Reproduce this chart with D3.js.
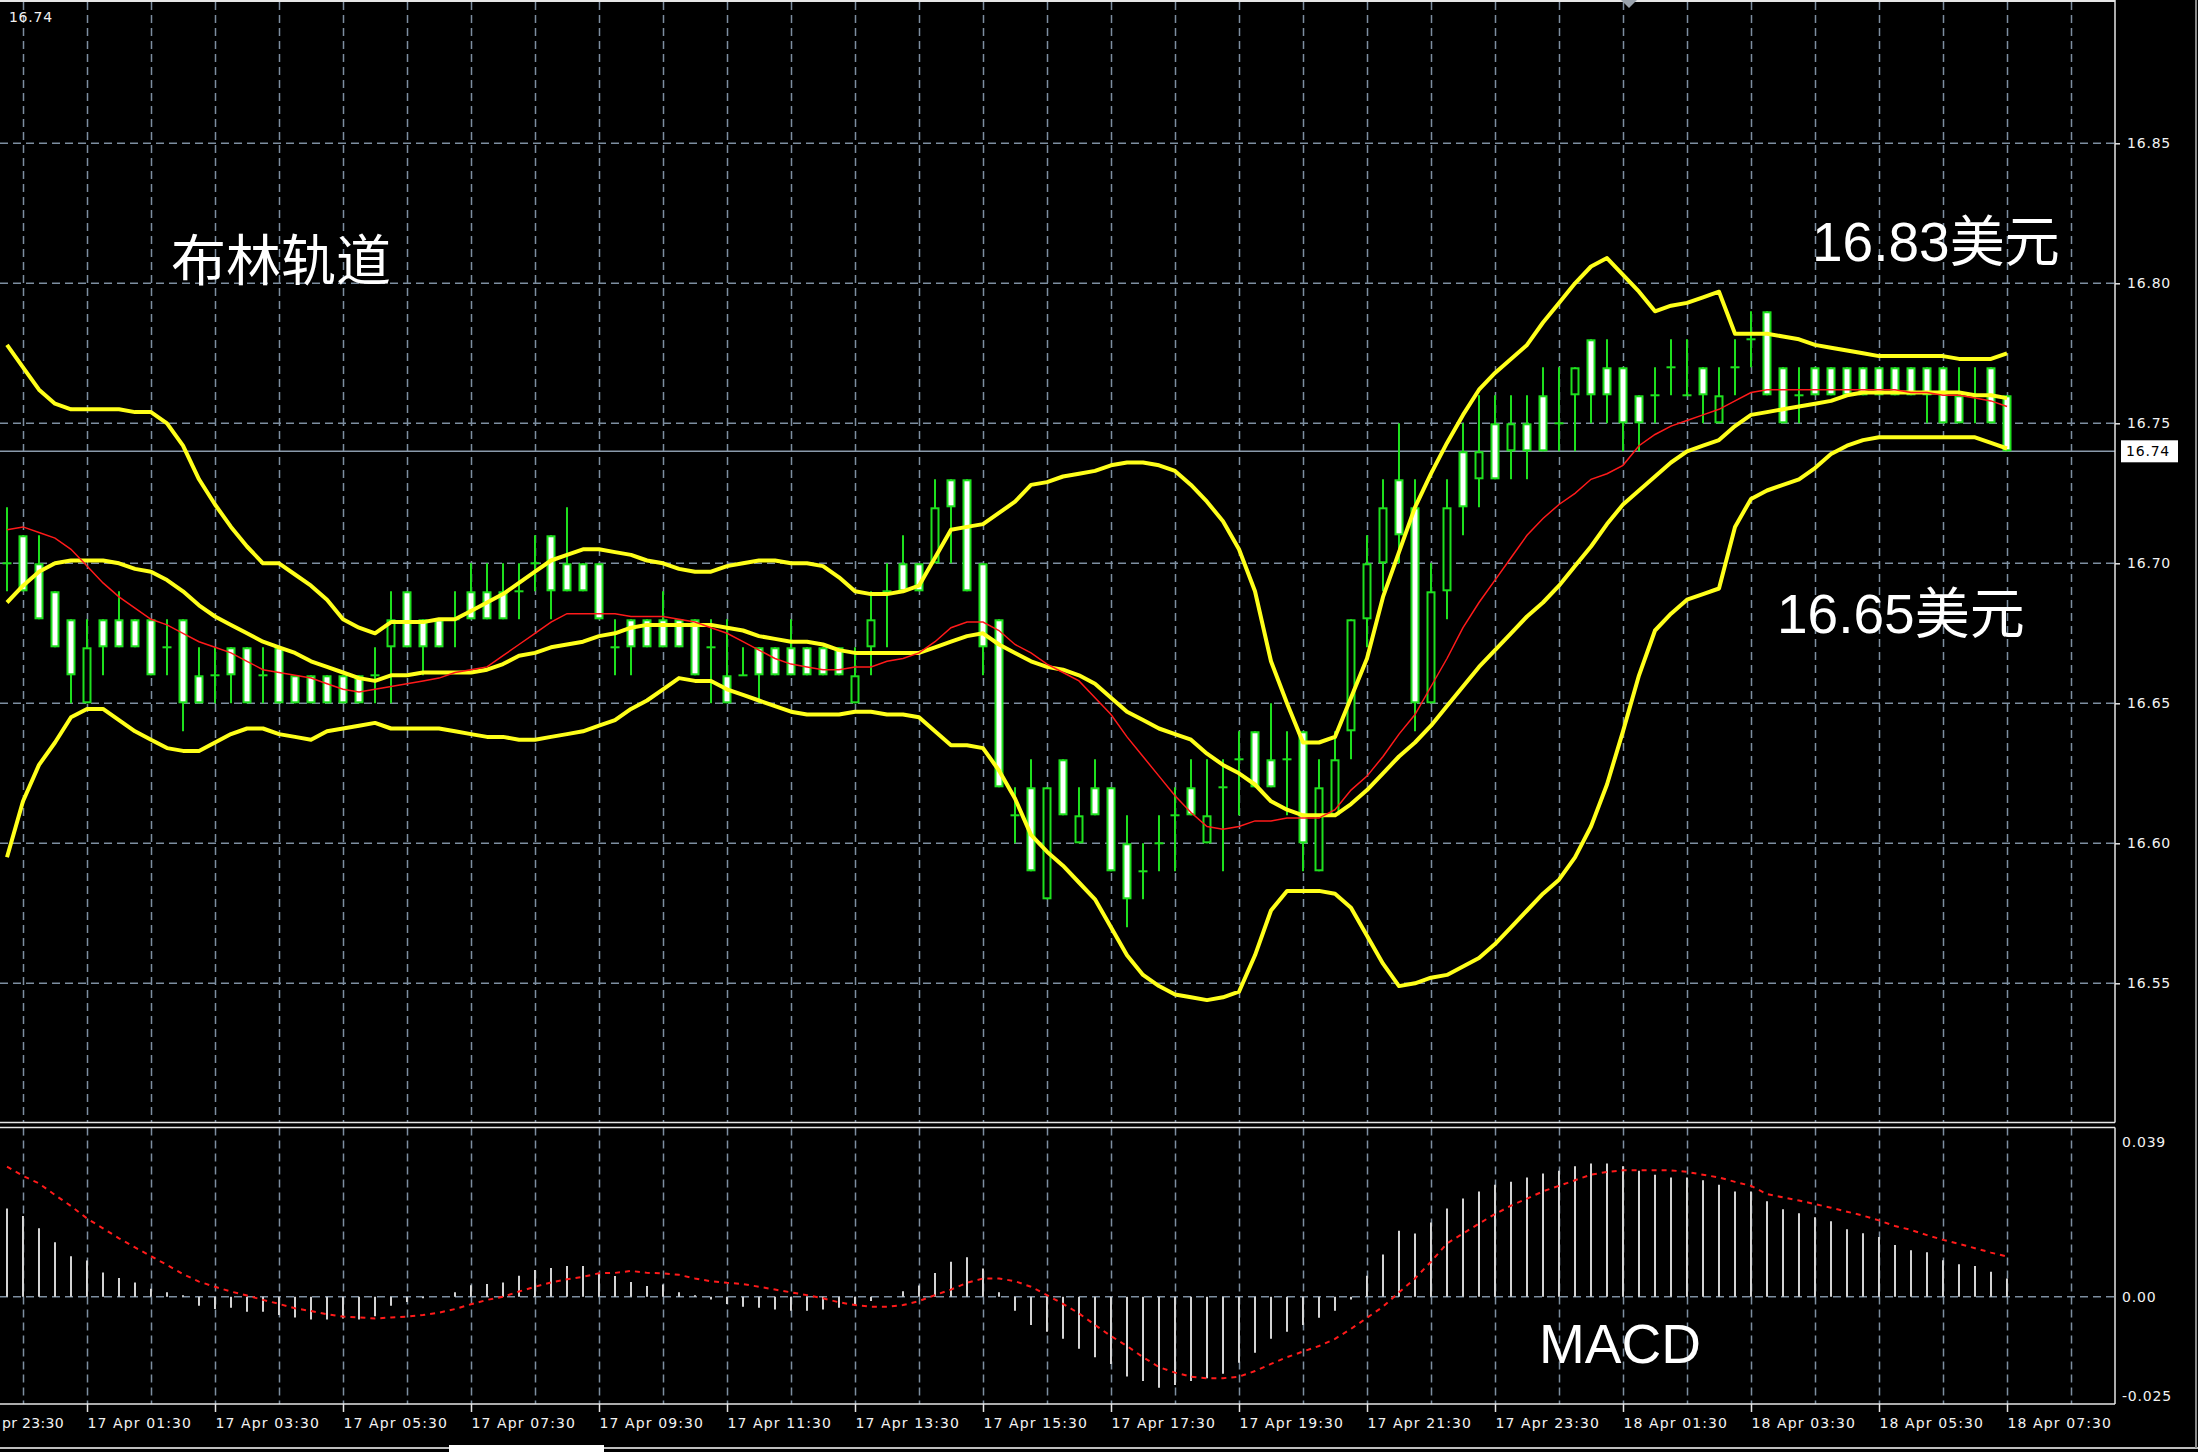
<!DOCTYPE html>
<html><head><meta charset="utf-8">
<script src="https://cdn.jsdelivr.net/npm/d3@7"></script>
<style>html,body{margin:0;padding:0;background:#000;overflow:hidden}</style>
</head><body>
<svg id="c" width="2198" height="1452"></svg>
<script>
// ---- data (15-minute candles, 17 Apr 00:15 .. 18 Apr 07:30) ----
const opens = [16.70,16.71,16.70,16.69,16.68,16.65,16.68,16.68,16.68,16.68,
16.67,16.68,16.66,16.66,16.67,16.67,16.66,16.67,16.66,16.66,
16.66,16.66,16.66,16.66,16.67,16.69,16.68,16.68,16.68,16.69,
16.69,16.69,16.69,16.70,16.71,16.70,16.70,16.70,16.67,16.68,
16.68,16.68,16.68,16.68,16.67,16.66,16.66,16.67,16.67,16.67,
16.67,16.67,16.67,16.65,16.67,16.69,16.70,16.70,16.70,16.73,
16.73,16.70,16.68,16.61,16.62,16.58,16.63,16.60,16.62,16.62,
16.60,16.59,16.60,16.61,16.62,16.60,16.62,16.63,16.64,16.63,
16.63,16.64,16.59,16.61,16.64,16.68,16.70,16.73,16.72,16.65,
16.69,16.74,16.73,16.75,16.74,16.75,16.76,16.75,16.76,16.78,
16.77,16.77,16.76,16.76,16.77,16.76,16.77,16.75,16.77,16.78,
16.79,16.77,16.76,16.77,16.77,16.77,16.77,16.77,16.77,16.77,
16.77,16.77,16.76,16.76,16.77,16.76];
const highs = [16.72,16.71,16.71,16.69,16.68,16.68,16.68,16.69,16.68,16.68,
16.68,16.68,16.67,16.67,16.67,16.67,16.67,16.67,16.66,16.66,
16.66,16.66,16.66,16.67,16.69,16.69,16.68,16.68,16.69,16.70,
16.70,16.70,16.70,16.71,16.71,16.72,16.70,16.70,16.68,16.68,
16.68,16.69,16.68,16.68,16.68,16.68,16.67,16.67,16.67,16.68,
16.67,16.67,16.67,16.67,16.69,16.70,16.71,16.70,16.73,16.73,
16.73,16.70,16.68,16.62,16.63,16.62,16.63,16.62,16.63,16.62,
16.61,16.60,16.61,16.62,16.63,16.63,16.63,16.64,16.64,16.65,
16.64,16.64,16.63,16.64,16.68,16.71,16.73,16.75,16.73,16.70,
16.73,16.75,16.76,16.76,16.76,16.76,16.77,16.77,16.77,16.78,
16.78,16.77,16.76,16.77,16.78,16.78,16.77,16.77,16.78,16.79,
16.79,16.77,16.77,16.77,16.77,16.77,16.77,16.77,16.77,16.77,
16.77,16.77,16.77,16.77,16.77,16.76];
const lows = [16.69,16.69,16.68,16.67,16.65,16.65,16.66,16.67,16.67,16.66,
16.66,16.64,16.65,16.65,16.65,16.65,16.65,16.65,16.65,16.65,
16.65,16.65,16.65,16.65,16.65,16.67,16.66,16.67,16.67,16.68,
16.68,16.68,16.68,16.69,16.68,16.69,16.69,16.68,16.66,16.66,
16.67,16.67,16.67,16.66,16.65,16.65,16.66,16.65,16.66,16.66,
16.66,16.66,16.66,16.65,16.66,16.67,16.69,16.69,16.70,16.70,
16.69,16.66,16.62,16.60,16.59,16.58,16.61,16.60,16.61,16.59,
16.57,16.58,16.59,16.59,16.61,16.60,16.59,16.61,16.62,16.62,
16.61,16.59,16.59,16.61,16.63,16.67,16.69,16.70,16.64,16.65,
16.68,16.71,16.72,16.73,16.73,16.73,16.74,16.74,16.74,16.75,
16.75,16.74,16.74,16.75,16.76,16.76,16.75,16.75,16.76,16.77,
16.76,16.75,16.75,16.76,16.76,16.76,16.76,16.76,16.76,16.76,
16.75,16.75,16.75,16.75,16.75,16.74];
const closes = [16.70,16.69,16.68,16.67,16.66,16.67,16.67,16.67,16.67,16.66,
16.67,16.65,16.65,16.66,16.66,16.65,16.66,16.65,16.65,16.65,
16.65,16.65,16.65,16.66,16.68,16.67,16.67,16.67,16.68,16.68,
16.68,16.68,16.69,16.70,16.69,16.69,16.69,16.68,16.67,16.67,
16.67,16.67,16.67,16.66,16.67,16.65,16.66,16.66,16.66,16.66,
16.66,16.66,16.66,16.66,16.68,16.69,16.69,16.69,16.72,16.72,
16.69,16.67,16.62,16.61,16.59,16.62,16.61,16.61,16.61,16.59,
16.58,16.59,16.60,16.61,16.61,16.61,16.62,16.63,16.62,16.62,
16.63,16.60,16.62,16.63,16.68,16.70,16.72,16.71,16.65,16.69,
16.72,16.72,16.74,16.73,16.75,16.74,16.74,16.75,16.77,16.76,
16.76,16.75,16.75,16.76,16.77,16.76,16.76,16.76,16.77,16.78,
16.76,16.75,16.76,16.76,16.76,16.76,16.76,16.76,16.76,16.76,
16.76,16.75,16.75,16.76,16.75,16.74];

const bbUpper = [16.778,16.770,16.762,16.757,16.755,16.755,16.755,16.755,16.754,16.754,
16.750,16.742,16.730,16.721,16.713,16.706,16.700,16.700,16.696,16.692,
16.687,16.680,16.677,16.675,16.679,16.679,16.679,16.680,16.680,16.683,
16.686,16.689,16.693,16.697,16.701,16.703,16.705,16.705,16.704,16.703,
16.701,16.700,16.698,16.697,16.697,16.699,16.700,16.701,16.701,16.700,
16.700,16.699,16.695,16.690,16.689,16.689,16.690,16.692,16.702,16.712,
16.713,16.714,16.718,16.722,16.728,16.729,16.731,16.732,16.733,16.735,
16.736,16.736,16.735,16.733,16.728,16.722,16.715,16.705,16.690,16.665,
16.650,16.636,16.636,16.638,16.652,16.666,16.688,16.704,16.720,16.732,
16.743,16.753,16.762,16.768,16.773,16.778,16.786,16.793,16.800,16.806,
16.809,16.803,16.797,16.790,16.792,16.793,16.795,16.797,16.782,16.782,
16.782,16.781,16.780,16.778,16.777,16.776,16.775,16.774,16.774,16.774,
16.774,16.774,16.773,16.773,16.773,16.775];
const bbMiddle = [16.686,16.692,16.697,16.700,16.701,16.701,16.701,16.700,16.698,16.697,
16.694,16.690,16.685,16.681,16.678,16.675,16.672,16.670,16.668,16.665,
16.663,16.661,16.659,16.658,16.660,16.660,16.661,16.661,16.661,16.661,
16.662,16.664,16.667,16.668,16.670,16.671,16.672,16.674,16.675,16.677,
16.678,16.678,16.678,16.678,16.678,16.677,16.676,16.674,16.673,16.672,
16.672,16.671,16.669,16.668,16.668,16.668,16.668,16.668,16.670,16.672,
16.674,16.675,16.671,16.668,16.665,16.663,16.662,16.660,16.657,16.652,
16.647,16.644,16.641,16.639,16.637,16.632,16.628,16.625,16.621,16.615,
16.612,16.610,16.610,16.610,16.614,16.619,16.625,16.631,16.636,16.642,
16.649,16.656,16.663,16.669,16.675,16.681,16.686,16.692,16.699,16.706,
16.714,16.721,16.726,16.731,16.736,16.740,16.742,16.744,16.749,16.753,
16.754,16.755,16.756,16.757,16.758,16.760,16.761,16.761,16.761,16.761,
16.761,16.761,16.761,16.760,16.760,16.759];
const bbLower = [16.595,16.615,16.628,16.636,16.645,16.648,16.648,16.644,16.640,16.637,
16.634,16.633,16.633,16.636,16.639,16.641,16.641,16.639,16.638,16.637,
16.640,16.641,16.642,16.643,16.641,16.641,16.641,16.641,16.640,16.639,
16.638,16.638,16.637,16.637,16.638,16.639,16.640,16.642,16.644,16.648,
16.651,16.655,16.659,16.658,16.658,16.655,16.653,16.651,16.649,16.647,
16.646,16.646,16.646,16.647,16.647,16.646,16.646,16.645,16.640,16.635,
16.635,16.634,16.626,16.616,16.603,16.597,16.592,16.586,16.580,16.570,
16.560,16.553,16.549,16.546,16.545,16.544,16.545,16.547,16.560,16.576,
16.583,16.583,16.583,16.582,16.577,16.567,16.557,16.549,16.550,16.552,
16.553,16.556,16.559,16.564,16.570,16.576,16.582,16.587,16.595,16.606,
16.621,16.640,16.660,16.676,16.682,16.687,16.689,16.691,16.713,16.723,
16.726,16.728,16.730,16.734,16.739,16.742,16.744,16.745,16.745,16.745,
16.745,16.745,16.745,16.745,16.743,16.741];
const maRed = [16.712,16.713,16.711,16.709,16.705,16.699,16.693,16.688,16.684,16.680,
16.678,16.675,16.672,16.670,16.668,16.665,16.662,16.661,16.660,16.659,
16.657,16.655,16.654,16.655,16.656,16.657,16.658,16.659,16.661,16.662,
16.663,16.667,16.671,16.675,16.679,16.682,16.682,16.682,16.682,16.681,
16.681,16.681,16.680,16.679,16.677,16.675,16.672,16.669,16.666,16.664,
16.663,16.662,16.662,16.663,16.663,16.665,16.666,16.668,16.672,16.677,
16.679,16.679,16.676,16.671,16.668,16.664,16.661,16.658,16.652,16.646,
16.638,16.631,16.624,16.617,16.611,16.606,16.605,16.606,16.608,16.608,
16.609,16.609,16.609,16.612,16.619,16.624,16.631,16.639,16.646,16.656,
16.666,16.677,16.686,16.694,16.702,16.710,16.716,16.721,16.725,16.730,
16.732,16.735,16.742,16.746,16.749,16.751,16.753,16.755,16.758,16.761,
16.762,16.762,16.762,16.762,16.762,16.762,16.762,16.762,16.762,16.761,
16.761,16.760,16.760,16.759,16.758,16.756];

const macdHist = [0.0222,0.0203,0.0172,0.0137,0.0102,0.0091,0.0061,0.0047,0.0036,0.0020,
0.0011,0.0004,-0.0023,-0.0031,-0.0028,-0.0038,-0.0038,-0.0046,-0.0052,-0.0057,
-0.0057,-0.0055,-0.0057,-0.0049,-0.0023,-0.0013,-0.0004,0.0000,0.0011,0.0029,
0.0032,0.0036,0.0053,0.0067,0.0072,0.0077,0.0077,0.0060,0.0052,0.0037,
0.0027,0.0031,0.0011,0.0004,-0.0007,-0.0018,-0.0025,-0.0028,-0.0032,-0.0035,
-0.0035,-0.0032,-0.0028,-0.0021,-0.0011,0.0000,0.0014,0.0028,0.0060,0.0088,
0.0099,0.0071,0.0011,-0.0035,-0.0071,-0.0088,-0.0106,-0.0131,-0.0152,-0.0169,
-0.0201,-0.0212,-0.0229,-0.0222,-0.0212,-0.0205,-0.0194,-0.0166,-0.0141,-0.0106,
-0.0088,-0.0071,-0.0053,-0.0035,-0.0007,0.0053,0.0106,0.0166,0.0159,0.0187,
0.0222,0.0247,0.0265,0.0282,0.0289,0.0300,0.0310,0.0317,0.0328,0.0335,
0.0335,0.0328,0.0317,0.0307,0.0300,0.0300,0.0293,0.0282,0.0265,0.0265,
0.0240,0.0220,0.0210,0.0200,0.0190,0.0170,0.0160,0.0150,0.0130,0.0117,
0.0112,0.0092,0.0082,0.0077,0.0063,0.0046];
const macdSignal = [0.0327,0.0304,0.0285,0.0256,0.0228,0.0197,0.0172,0.0147,0.0124,0.0102,
0.0080,0.0057,0.0038,0.0025,0.0013,0.0003,-0.0008,-0.0018,-0.0029,-0.0036,
-0.0044,-0.0050,-0.0052,-0.0055,-0.0052,-0.0050,-0.0046,-0.0040,-0.0031,-0.0019,
-0.0008,0.0000,0.0013,0.0025,0.0036,0.0044,0.0050,0.0059,0.0060,0.0065,
0.0060,0.0059,0.0055,0.0046,0.0039,0.0035,0.0032,0.0025,0.0018,0.0011,
0.0004,-0.0004,-0.0014,-0.0021,-0.0025,-0.0025,-0.0021,-0.0011,0.0004,0.0018,
0.0035,0.0046,0.0046,0.0039,0.0025,0.0004,-0.0018,-0.0042,-0.0071,-0.0099,
-0.0124,-0.0152,-0.0177,-0.0191,-0.0201,-0.0205,-0.0205,-0.0201,-0.0187,-0.0169,
-0.0152,-0.0138,-0.0124,-0.0106,-0.0081,-0.0053,-0.0025,0.0011,0.0046,0.0088,
0.0134,0.0159,0.0184,0.0208,0.0229,0.0247,0.0265,0.0279,0.0293,0.0307,
0.0314,0.0318,0.0318,0.0318,0.0318,0.0314,0.0307,0.0300,0.0289,0.0279,
0.0258,0.0250,0.0242,0.0233,0.0224,0.0214,0.0204,0.0192,0.0178,0.0168,
0.0155,0.0143,0.0133,0.0122,0.0111,0.0101];

const priceTicks = [16.85,16.80,16.75,16.70,16.65,16.60,16.55];
const macdTicks = [0.039,0.00,-0.025];
const timeLabels = ["17 Apr 01:30","17 Apr 03:30","17 Apr 05:30","17 Apr 07:30","17 Apr 09:30",
"17 Apr 11:30","17 Apr 13:30","17 Apr 15:30","17 Apr 17:30","17 Apr 19:30","17 Apr 21:30",
"17 Apr 23:30","18 Apr 01:30","18 Apr 03:30","18 Apr 05:30","18 Apr 07:30"];
const timeLabelIdx = timeLabels.map((d,k)=>5+8*k);   // candle index of each label
const edgeTimeLabel = "pr 23:30";                     // visible tail of the label cut by the left edge
const gridIdx = d3.range(1,130,4);                    // hourly grid (xx:30)
const lastPrice = 16.74;
const headerText = "16.74";
const annotations = [
  {text:"布林轨道", x:171, y:280},
  {text:"16.83美元", x:1812, y:261},
  {text:"16.65美元", x:1777, y:633},
  {text:"MACD", x:1539, y:1363}
];

// ---- layout ----
const W=2198,H=1452;
const PR=2115, MT=2, MB=1122.5, ST=1127.5, SB=1404;
const svg = d3.select('#c');
svg.append('rect').attr('width',W).attr('height',H).attr('fill','#000');

const x = d3.scaleLinear().domain([0,125]).range([7,2007]);
const y = d3.scaleLinear().domain([16.85,16.55]).range([143.3,983.3]);
const ym = d3.scaleLinear().domain([0.039,-0.025]).range([1141.7,1396.1]);

const defs = svg.append('defs');
defs.append('clipPath').attr('id','cm').append('rect').attr('x',0).attr('y',MT).attr('width',PR).attr('height',MB-MT);
defs.append('clipPath').attr('id','cs').append('rect').attr('x',0).attr('y',ST).attr('width',PR).attr('height',SB-ST);

const gridCol = '#7d8ea0';
const dash = '8,5';
const main = svg.append('g').attr('clip-path','url(#cm)');
const sub = svg.append('g').attr('clip-path','url(#cs)');

// grid
main.selectAll('line.vg').data(gridIdx).join('line').attr('class','vg')
  .attr('x1',d=>x(d)+0.5).attr('x2',d=>x(d)+0.5).attr('y1',MT).attr('y2',MB)
  .attr('stroke',gridCol).attr('stroke-width',1.5).attr('stroke-dasharray',dash);
main.selectAll('line.hg').data(priceTicks).join('line').attr('class','hg')
  .attr('x1',0).attr('x2',PR).attr('y1',d=>y(d)).attr('y2',d=>y(d))
  .attr('stroke',gridCol).attr('stroke-width',1.5).attr('stroke-dasharray',dash);
sub.selectAll('line.vg').data(gridIdx).join('line').attr('class','vg')
  .attr('x1',d=>x(d)+0.5).attr('x2',d=>x(d)+0.5).attr('y1',ST).attr('y2',SB)
  .attr('stroke',gridCol).attr('stroke-width',1.5).attr('stroke-dasharray',dash);
sub.append('line').attr('x1',0).attr('x2',PR).attr('y1',ym(0)).attr('y2',ym(0))
  .attr('stroke',gridCol).attr('stroke-width',1.5).attr('stroke-dasharray',dash);

// last price line
main.append('line').attr('x1',0).attr('x2',PR).attr('y1',y(lastPrice)).attr('y2',y(lastPrice))
  .attr('stroke','#8a9aab').attr('stroke-width',1.5);

// candles
const green = '#1ee01e';
const idx = d3.range(opens.length);
main.selectAll('line.wick').data(idx).join('line').attr('class','wick')
  .attr('x1',i=>x(i)).attr('x2',i=>x(i)).attr('y1',i=>y(highs[i])).attr('y2',i=>y(lows[i]))
  .attr('stroke',green).attr('stroke-width',2);
const bodies = idx.filter(i=>opens[i]!==closes[i]);
main.selectAll('rect.body').data(bodies).join('rect').attr('class','body')
  .attr('x',i=>x(i)-3.5).attr('width',7)
  .attr('y',i=>y(Math.max(opens[i],closes[i]))+1)
  .attr('height',i=>Math.abs(y(opens[i])-y(closes[i]))-2)
  .attr('fill',i=>opens[i]>closes[i]?'#ffffff':'#000000')
  .attr('stroke',green).attr('stroke-width',2);
const dojis = idx.filter(i=>opens[i]===closes[i]);
main.selectAll('line.doji').data(dojis).join('line').attr('class','doji')
  .attr('x1',i=>x(i)-4.5).attr('x2',i=>x(i)+4.5).attr('y1',i=>y(opens[i])).attr('y2',i=>y(opens[i]))
  .attr('stroke',green).attr('stroke-width',2);

// bollinger + MA
const line = d3.line().x((d,i)=>x(i)).y(d=>y(d));
[bbUpper,bbMiddle,bbLower].forEach(s=>{
  main.append('path').datum(s).attr('d',line).attr('fill','none')
    .attr('stroke','#ffff1a').attr('stroke-width',4).attr('stroke-linejoin','round');
});
main.append('path').datum(maRed).attr('d',line).attr('fill','none')
  .attr('stroke','#ff1a1a').attr('stroke-width',1.5);

// MACD
sub.selectAll('line.hist').data(idx).join('line').attr('class','hist')
  .attr('x1',i=>x(i)).attr('x2',i=>x(i)).attr('y1',ym(0)).attr('y2',i=>ym(macdHist[i]))
  .attr('stroke','#d4d4d4').attr('stroke-width',2);
const sline = d3.line().x((d,i)=>x(i)).y(d=>ym(d));
sub.append('path').datum(macdSignal).attr('d',sline).attr('fill','none')
  .attr('stroke','#ff1a1a').attr('stroke-width',2).attr('stroke-dasharray','5,5');

// borders
const bcol = '#e6e6e6';
svg.append('line').attr('x1',0).attr('x2',PR).attr('y1',1).attr('y2',1).attr('stroke',bcol).attr('stroke-width',2);
svg.append('line').attr('x1',0).attr('x2',PR).attr('y1',MB).attr('y2',MB).attr('stroke',bcol).attr('stroke-width',1.5);
svg.append('line').attr('x1',0).attr('x2',PR).attr('y1',ST).attr('y2',ST).attr('stroke',bcol).attr('stroke-width',1.5);
svg.append('line').attr('x1',0).attr('x2',PR).attr('y1',SB).attr('y2',SB).attr('stroke',bcol).attr('stroke-width',1.5);
svg.append('line').attr('x1',PR).attr('x2',PR).attr('y1',0).attr('y2',MB).attr('stroke',bcol).attr('stroke-width',1.5);
svg.append('line').attr('x1',PR).attr('x2',PR).attr('y1',ST).attr('y2',SB).attr('stroke',bcol).attr('stroke-width',1.5);

// axes
const axFont = '"DejaVu Sans", sans-serif';
function styleAxis(g, ls){
  g.select('.domain').remove();
  g.selectAll('.tick line').attr('stroke',bcol).attr('stroke-width',1.5);
  g.selectAll('.tick text').attr('fill','#f2f2f2').style('font-family',axFont)
   .style('font-size','14px').style('letter-spacing',ls+'px');
}
const ya = svg.append('g').attr('transform',`translate(${PR},0)`)
  .call(d3.axisRight(y).tickValues(priceTicks).tickFormat(d3.format('.2f')).tickSize(5).tickPadding(7));
styleAxis(ya,0.8);
const fm = d=> d===0 ? '0.00' : (d<0?'-':'')+d3.format('.3f')(Math.abs(d));
const ma = svg.append('g').attr('transform',`translate(${PR},0)`)
  .call(d3.axisRight(ym).tickValues(macdTicks).tickFormat(fm).tickSize(0).tickPadding(7));
styleAxis(ma,0.8);
const xa = svg.append('g').attr('transform',`translate(0,${SB})`)
  .call(d3.axisBottom(x).tickValues(timeLabelIdx).tickFormat((d,k)=>timeLabels[k]).tickSize(8).tickPadding(6));
styleAxis(xa,1.1);
xa.selectAll('.tick text').attr('text-anchor','start').attr('x',0);
// the label whose start is cut by the left edge: only its visible tail is shown
xa.append('text').attr('x',2).attr('y',14).attr('dy','0.71em').attr('text-anchor','start')
  .text(edgeTimeLabel).attr('fill','#f2f2f2').style('font-family',axFont)
  .style('font-size','14px').style('letter-spacing','0.3px');

// last price tag
const tag = svg.append('g');
tag.append('rect').attr('x',PR+6).attr('y',y(lastPrice)-11).attr('width',57).attr('height',22).attr('fill','#ffffff');
tag.append('text').attr('x',PR+11).attr('y',y(lastPrice)).attr('dy','0.36em').text(d3.format('.2f')(lastPrice))
  .attr('fill','#000').style('font-family',axFont).style('font-size','14px').style('letter-spacing','0.8px');

// header text fragment
svg.append('text').attr('x',53).attr('y',17).attr('dy','0.36em').attr('text-anchor','end')
  .text(headerText).attr('fill','#f2f2f2').style('font-family',axFont).style('font-size','14px').style('letter-spacing','0.8px');

// shift marker
svg.append('path').attr('d','M1621,0 L1637,0 L1629,8 Z').attr('fill','#9aa3ad');

// annotations
svg.selectAll('text.ann').data(annotations).join('text').attr('class','ann')
  .attr('x',d=>d.x).attr('y',d=>d.y).text(d=>d.text).attr('fill','#ffffff')
  .style('font-family','"Liberation Sans","Noto Sans CJK SC",sans-serif').style('font-size','55px');

// window bottom / right edges
svg.append('line').attr('x1',0).attr('x2',W).attr('y1',1448).attr('y2',1448).attr('stroke','#bdbdbd').attr('stroke-width',2);
svg.append('rect').attr('x',449).attr('y',1445).attr('width',155).attr('height',7).attr('fill','#ffffff');
svg.append('line').attr('x1',2196).attr('x2',2196).attr('y1',0).attr('y2',1448).attr('stroke','#8a8a8a').attr('stroke-width',2);
</script>
</body></html>
